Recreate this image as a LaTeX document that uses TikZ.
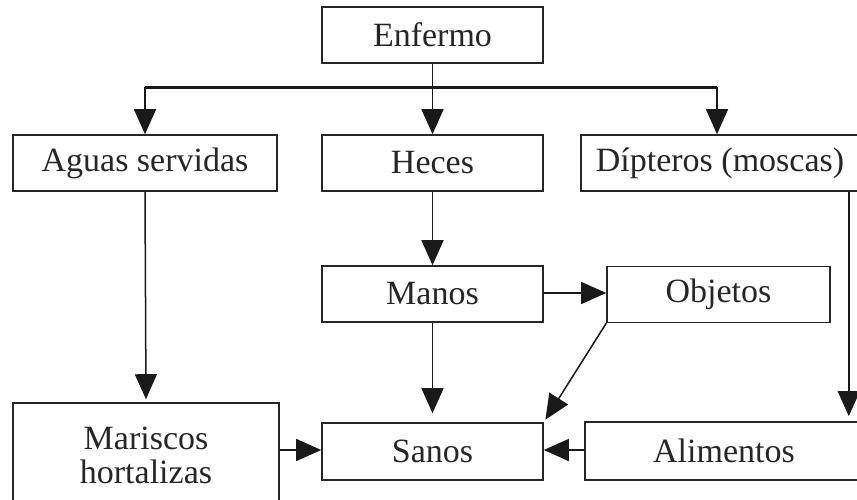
\documentclass[tikz,border=0pt]{standalone}
\usepackage{fontspec}
\setmainfont{Liberation Serif}
\usetikzlibrary{arrows.meta,calc}
\begin{document}
\begin{tikzpicture}[x=1pt,y=1pt,
  box/.style={draw=black!85,line width=1.6pt,fill=white,text=black!85,inner sep=0pt,
    font=\fontsize{34}{36}\selectfont,align=center,minimum height=56pt},
  arr/.style={draw=black!90,line width=1.5pt,-{Triangle[length=25pt,width=22pt]}},
  ln/.style={draw=black!90,line width=1.5pt}]
\useasboundingbox (0,0) rectangle (857,-499);
\clip (0,0) rectangle (857,-499);
\fill[white] (0,0) rectangle (857,-499);
\node[box,minimum width=221pt] (enf) at (432.5,-35) {Enfermo};
\node[box,minimum width=264pt] (agu) at (145,-163) {Aguas servidas};
\node[box,minimum width=221pt] (hec) at (432.5,-163) {Heces};
\node[box,minimum width=278pt] (dip) at (720,-163) {Dípteros (moscas)};
\node[box,minimum width=221pt] (man) at (432.5,-294) {Manos};
\node[box,minimum width=223pt] (obj) at (718.5,-294.5) {Objetos};
\node[box,minimum width=266pt,minimum height=104pt] (mar) at (146,-455) {Mariscos\\[-2pt]hortalizas};
\node[box,minimum width=221pt,minimum height=57pt] (san) at (432.5,-451.5) {Sanos};
\node[box,minimum width=278pt,minimum height=58pt] (ali) at (724,-451) {Alimentos};
% top distribution
\draw[arr] (enf.south) -- (hec.north);
\draw[line width=2.6pt,draw=black!90] ($(agu.north)+(0,47)$) coordinate (b1) -- ($(dip.north)+(-3,47)$) coordinate (b2);
\draw[arr] (b1) -- (agu.north);
\draw[arr] (b2) -- (b2 |- dip.north);
% vertical links
\draw[arr,shorten >=3pt] (agu.south) -- (mar.north);
\draw[arr] (hec.south) -- (man.north);
\draw[arr,shorten >=9pt] (man.south) -- (san.north);
\coordinate (d1) at ($(dip.south east)+(-11,0)$);
\draw[arr,shorten >=5pt] (d1) -- (d1 |- ali.north);
% horizontal / diagonal
\draw[arr] (man.east |- 0,-293) -- (obj.west |- 0,-293);
\draw[arr,shorten >=3pt] (obj.south west) -- (san.north east);
\draw[arr] (ali.west |- 0,-450) -- (san.east |- 0,-450);
\draw[arr] (mar.east |- 0,-450) -- (san.west |- 0,-450);
\end{tikzpicture}
\end{document}
